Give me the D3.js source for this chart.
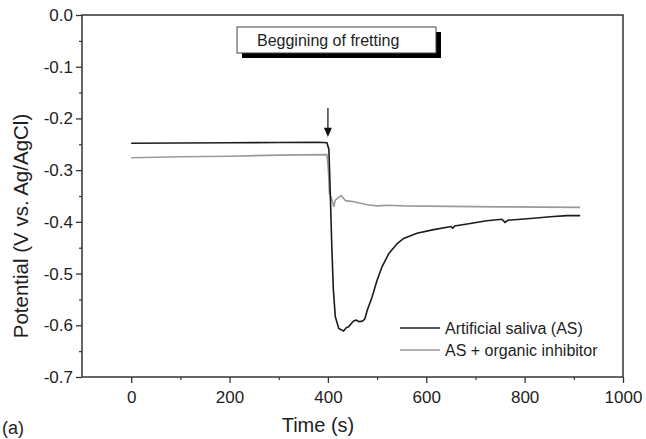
<!DOCTYPE html>
<html>
<head>
<meta charset="utf-8">
<script src="https://cdn.jsdelivr.net/npm/d3@7"></script>
<style>
  body { margin: 0; background: #fff; }
  text { font-family: "Liberation Sans", Arial, sans-serif; fill: #1e1e1e; }
</style>
</head>
<body>
<svg id="chart"></svg>
<script>
// Artificial saliva (AS)
const asTime = [0, 100, 200, 300, 380, 398, 402, 405, 408, 411, 415, 422, 432, 437, 442, 448, 453, 458, 463, 470, 475, 480, 490, 500, 510, 524, 541, 554, 581, 615, 650, 654, 658, 683, 723, 754, 760, 766, 818, 852, 886, 913];
const asPotential = [-0.248, -0.2475, -0.247, -0.2465, -0.246, -0.247, -0.26, -0.35, -0.45, -0.53, -0.583, -0.606, -0.611, -0.605, -0.603, -0.596, -0.591, -0.590, -0.593, -0.592, -0.588, -0.571, -0.545, -0.513, -0.487, -0.461, -0.442, -0.432, -0.422, -0.415, -0.409, -0.412, -0.408, -0.404, -0.398, -0.395, -0.401, -0.397, -0.393, -0.390, -0.388, -0.388];

// AS + organic inhibitor
const inhTime = [0, 100, 200, 300, 398, 401, 403, 406, 409, 412, 415, 420, 427, 432, 436, 453, 480, 500, 524, 554, 650, 750, 913];
const inhPotential = [-0.276, -0.274, -0.273, -0.271, -0.270, -0.30, -0.345, -0.352, -0.36, -0.371, -0.358, -0.354, -0.349, -0.355, -0.359, -0.361, -0.367, -0.369, -0.368, -0.369, -0.370, -0.371, -0.372];

const xTicks = [0, 200, 400, 600, 800, 1000];
const xMinorTicks = [100, 300, 500, 700, 900];
const yTicks = [0, -0.1, -0.2, -0.3, -0.4, -0.5, -0.6, -0.7];
const yMinorTicks = [-0.05, -0.15, -0.25, -0.35, -0.45, -0.55, -0.65];

const seriesNames = ["Artificial saliva (AS)", "AS + organic inhibitor"];
const seriesColors = ["#1c1c1c", "#9a9a9a"];

const width = 646;
const height = 439;
const margin = { top: 15, right: 23, bottom: 62, left: 82 };

const svg = d3.select("#chart").attr("width", width).attr("height", height);

const x = d3.scaleLinear()
    .domain([-100, 1000])
    .range([margin.left, width - margin.right]);

const y = d3.scaleLinear()
    .domain([-0.7, 0])
    .range([height - margin.bottom, margin.top]);

// frame
svg.append("rect")
    .attr("x", x(-100))
    .attr("y", y(0))
    .attr("width", x(1000) - x(-100))
    .attr("height", y(-0.7) - y(0))
    .attr("fill", "none")
    .attr("stroke", "#333")
    .attr("stroke-width", 1.5);

// x axis
const xAxis = svg.append("g")
    .attr("transform", `translate(0, ${y(-0.7)})`)
    .call(d3.axisBottom(x).tickValues(xTicks).tickSize(6).tickSizeOuter(0).tickPadding(8)
        .tickFormat(d3.format("d")));
xAxis.select(".domain").remove();
xAxis.selectAll("line").attr("stroke", "#333").attr("stroke-width", 1.3);
xAxis.selectAll("text").attr("font-size", "17px").attr("font-family", "Liberation Sans, Arial, sans-serif").attr("fill", "#1e1e1e");

svg.append("g")
    .attr("transform", `translate(0, ${y(-0.7)})`)
    .call(d3.axisBottom(x).tickValues(xMinorTicks).tickSize(3).tickFormat(""))
    .call(g => g.select(".domain").remove())
    .selectAll("line").attr("stroke", "#333").attr("stroke-width", 1.2);

// y axis
const yAxis = svg.append("g")
    .attr("transform", `translate(${x(-100)}, 0)`)
    .call(d3.axisLeft(y).tickValues(yTicks).tickSize(6).tickSizeOuter(0).tickPadding(3)
        .tickFormat(d => d.toFixed(1)));
yAxis.select(".domain").remove();
yAxis.selectAll("line").attr("stroke", "#333").attr("stroke-width", 1.3);
yAxis.selectAll("text").attr("font-size", "17px").attr("font-family", "Liberation Sans, Arial, sans-serif").attr("fill", "#1e1e1e");

svg.append("g")
    .attr("transform", `translate(${x(-100)}, 0)`)
    .call(d3.axisLeft(y).tickValues(yMinorTicks).tickSize(3).tickFormat(""))
    .call(g => g.select(".domain").remove())
    .selectAll("line").attr("stroke", "#333").attr("stroke-width", 1.2);

// axis titles
svg.append("text")
    .attr("x", 318)
    .attr("y", 432)
    .attr("text-anchor", "middle")
    .attr("font-size", "20px")
    .text("Time (s)");

svg.append("text")
    .attr("transform", `translate(28, 226) rotate(-90)`)
    .attr("text-anchor", "middle")
    .attr("font-size", "20.5px")
    .text("Potential (V vs. Ag/AgCl)");

svg.append("text")
    .attr("x", 2)
    .attr("y", 434)
    .attr("font-size", "18px")
    .text("(a)");

// curves
const line = d3.line()
    .x(d => x(d[0]))
    .y(d => y(d[1]));

const series = [
    d3.zip(inhTime, inhPotential),
    d3.zip(asTime, asPotential)
];

svg.append("path")
    .datum(series[0])
    .attr("fill", "none")
    .attr("stroke", seriesColors[1])
    .attr("stroke-width", 1.6)
    .attr("d", line);

svg.append("path")
    .datum(series[1])
    .attr("fill", "none")
    .attr("stroke", seriesColors[0])
    .attr("stroke-width", 1.6)
    .attr("d", line);

// arrow marking start of fretting
svg.append("line")
    .attr("x1", x(400)).attr("x2", x(400))
    .attr("y1", y(-0.18)).attr("y2", y(-0.226))
    .attr("stroke", "#222").attr("stroke-width", 1.3);
svg.append("path")
    .attr("d", `M${x(400) - 4},${y(-0.218)} L${x(400) + 4},${y(-0.218)} L${x(400)},${y(-0.236)} Z`)
    .attr("fill", "#111");

// annotation box with shadow
const box = { x: 237, y: 27, w: 199, h: 26 };
svg.append("rect")
    .attr("x", box.x + 5).attr("y", box.y + 5)
    .attr("width", box.w).attr("height", box.h)
    .attr("fill", "#000");
svg.append("rect")
    .attr("x", box.x).attr("y", box.y)
    .attr("width", box.w).attr("height", box.h)
    .attr("fill", "#fff")
    .attr("stroke", "#444")
    .attr("stroke-width", 1);
svg.append("text")
    .attr("x", box.x + 20)
    .attr("y", box.y + 19)
    .attr("font-size", "16px")
    .text("Beggining of fretting");

// legend
const legend = svg.append("g").attr("transform", "translate(400, 328)");
seriesNames.forEach((name, i) => {
    const row = legend.append("g").attr("transform", `translate(0, ${i * 22})`);
    row.append("line")
        .attr("x1", 0).attr("x2", 40)
        .attr("stroke", seriesColors[i])
        .attr("stroke-width", 1.6);
    row.append("text")
        .attr("x", 45)
        .attr("y", 5.5)
        .attr("font-size", "16px")
        .text(name);
});
</script>
</body>
</html>
